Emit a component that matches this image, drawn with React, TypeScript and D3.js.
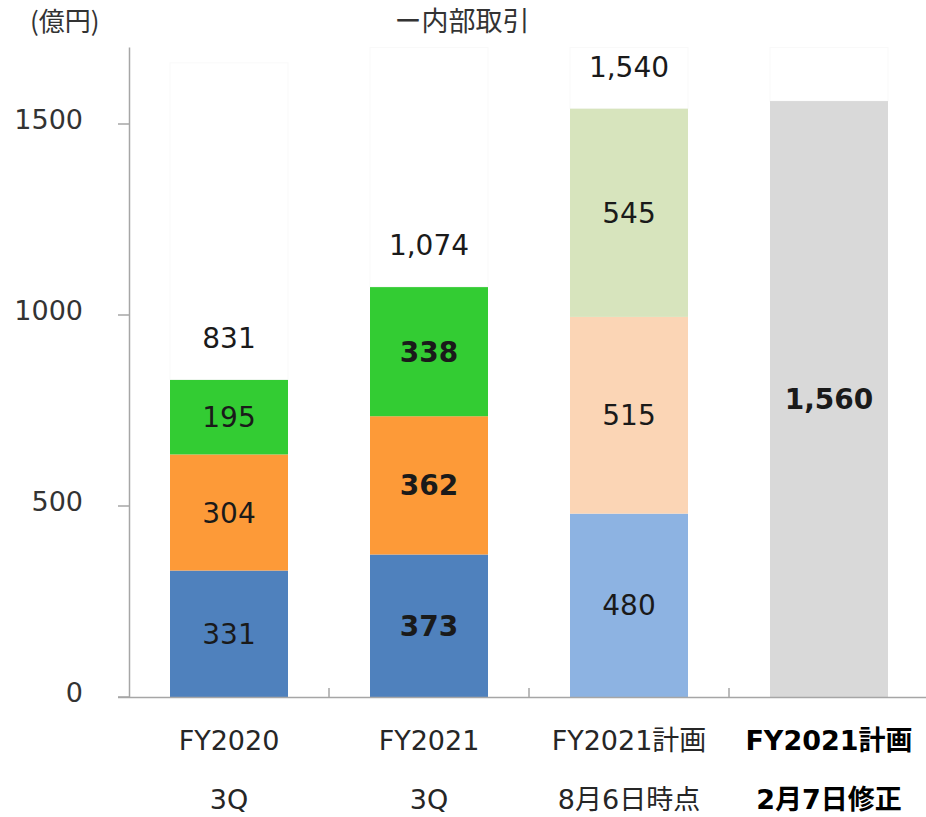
import React, { useEffect } from "react";
import * as d3 from "d3";

const categories = ["FY2020 3Q", "FY2021 3Q", "FY2021計画 8月6日時点", "FY2021計画 2月7日修正"];
const labelLine1 = ["FY2020", "FY2021", "FY2021計画", "FY2021計画"];
const labelLine2 = ["3Q", "3Q", "8月6日時点", "2月7日修正"];
const segmentA = [331, 373, 480, 0];
const segmentB = [304, 362, 515, 0];
const segmentC = [195, 338, 545, 0];
const revisedPlan = [0, 0, 0, 1560];
const totals = [831, 1074, 1540, 0];
const internalTop = [1660, 1700, 1700, 1700];
const boldCategory = [false, true, false, true];
const yTicks = [0, 500, 1000, 1500];

const W = 926;
const H = 817;
const FONT = "'DejaVu Sans', Verdana, sans-serif";
const JFONT = "'DejaVu Sans', 'Noto Sans CJK JP', sans-serif";
const CJK = "'Noto Sans CJK JP', sans-serif";

const darkColors = ["#4f81bd", "#fd9a38", "#33cc33"];
const lightColors = ["#8db3e2", "#fbd5b5", "#d7e4bd"];
const greyColor = "#d9d9d9";

export default function App() {
  useEffect(() => {
    document.body.style.margin = "0";
  }, []);

  const x = d3.scaleBand<string>().domain(categories).range([129, 929]).paddingInner(0.41).paddingOuter(0.205);
  const y = d3.scaleLinear().domain([0, 1700]).range([697, 47.6]);
  const bw = x.bandwidth();

  const segs: { key: string; x: number; y0: number; y1: number; fill: string; value: number; bold: boolean }[] = [];
  categories.forEach((c, i) => {
    const vals = [segmentA[i], segmentB[i], segmentC[i]];
    let base = 0;
    vals.forEach((v, j) => {
      if (v > 0) {
        segs.push({
          key: c + j,
          x: x(c)!,
          y0: y(base),
          y1: y(base + v),
          fill: i < 2 ? darkColors[j] : lightColors[j],
          value: v,
          bold: boldCategory[i],
        });
      }
      base += v;
    });
    if (revisedPlan[i] > 0) {
      segs.push({ key: c + "r", x: x(c)!, y0: y(0), y1: y(revisedPlan[i]), fill: greyColor, value: revisedPlan[i], bold: boldCategory[i] });
    }
  });

  const fmt = d3.format(",");

  return (
    <svg width={W} height={H} style={{ display: "block", background: "#fff" }}>
      {categories.map((c, i) => {
        const top = totals[i] > 0 ? totals[i] : revisedPlan[i];
        return (
          <rect key={"int" + c} x={x(c)!} y={y(internalTop[i])} width={bw} height={y(top) - y(internalTop[i])}
            fill="#ffffff" stroke="#f9f9f9" strokeWidth={1} />
        );
      })}
      {segs.map((s) => (
        <rect key={s.key} x={s.x} y={s.y1} width={bw} height={s.y0 - s.y1} fill={s.fill} />
      ))}
      {segs.map((s) => (
        <text key={"t" + s.key} x={s.x + bw / 2} y={(s.y0 + s.y1) / 2} dy="0.36em" textAnchor="middle"
          fontFamily={FONT} fontSize={28} fontWeight={s.bold ? "bold" : "normal"} fill="#1a1a1a">
          {s.value >= 1000 ? fmt(s.value) : s.value}
        </text>
      ))}
      {categories.map((c, i) =>
        totals[i] > 0 ? (
          <text key={"tot" + c} x={x(c)! + bw / 2} y={y(totals[i]) - 42} dy="0.36em" textAnchor="middle"
            fontFamily={FONT} fontSize={28} fill="#1a1a1a">
            {fmt(totals[i])}
          </text>
        ) : null
      )}
      <line x1={129.5} x2={129.5} y1={47.6} y2={697} stroke="#a6a6a6" strokeWidth={1.5} />
      {yTicks.map((t) => (
        <g key={"yt" + t}>
          <line x1={118} x2={129.5} y1={y(t)} y2={y(t)} stroke="#a6a6a6" strokeWidth={1.5} />
          <text x={83} y={y(t) - 5} dy="0.36em" textAnchor="end" fontFamily={FONT} fontSize={27} fill="#333">
            {t}
          </text>
        </g>
      ))}
      <line x1={118} x2={926} y1={697.5} y2={697.5} stroke="#a6a6a6" strokeWidth={1.5} />
      {categories.slice(1).map((c) => (
        <line key={"xt" + c} x1={x(c)! - x.step() * 0.205} x2={x(c)! - x.step() * 0.205} y1={688} y2={697.5}
          stroke="#a6a6a6" strokeWidth={1.5} />
      ))}
      {categories.map((c, i) => (
        <g key={"xl" + c}>
          <text x={x(c)! + bw / 2} y={740} dy="0.36em" textAnchor="middle" fontFamily={JFONT} fontSize={27}
            fontWeight={i === 3 ? "bold" : "normal"} fill={i === 3 ? "#000" : "#262626"}>
            {labelLine1[i]}
          </text>
          <text x={x(c)! + bw / 2} y={799} dy="0.36em" textAnchor="middle" fontFamily={JFONT} fontSize={27}
            fontWeight={i === 3 ? "bold" : "normal"} fill={i === 3 ? "#000" : "#262626"}>
            {labelLine2[i]}
          </text>
        </g>
      ))}
      <text x={30} y={31} fontFamily={CJK} fontSize={26} fill="#333">(億円)</text>
      <text x={462} y={31} textAnchor="middle" fontFamily={CJK} fontSize={27} fill="#333">ー内部取引</text>
    </svg>
  );
}
